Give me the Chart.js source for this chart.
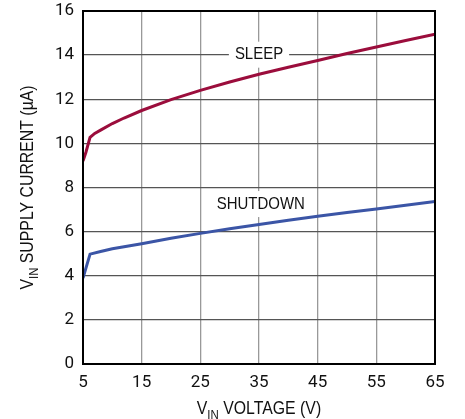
<!DOCTYPE html>
<html><head><meta charset="utf-8">
<script src="https://cdn.jsdelivr.net/npm/chart.js@4/dist/chart.umd.min.js"></script>
<style>html,body{margin:0;padding:0;background:#fff;}#wrap{width:465px;height:419px;}</style>
</head><body><div id="wrap"><canvas id="c" width="465" height="419"></canvas></div>
<script>
const sleepV = [5, 5.5, 6.2, 7, 8, 10, 12, 15, 20, 25, 30, 35, 40, 45, 50, 55, 60, 65];
const sleepI = [9.2, 9.6, 10.27, 10.45, 10.6, 10.9, 11.15, 11.49, 11.98, 12.4, 12.78, 13.13, 13.45, 13.76, 14.07, 14.37, 14.66, 14.95];
const shutV = [5, 6.2, 8, 10, 15, 20, 25, 30, 35, 40, 45, 50, 55, 60, 65];
const shutI = [3.9, 4.98, 5.1, 5.22, 5.45, 5.7, 5.92, 6.13, 6.32, 6.52, 6.7, 6.87, 7.03, 7.2, 7.37];
const xTicks = [5, 15, 25, 35, 45, 55, 65];
const yTicks = [0, 2, 4, 6, 8, 10, 12, 14, 16];
const seriesNames = ['SLEEP', 'SHUTDOWN'];

const FONT = '"Liberation Sans", Arial, sans-serif';
const TICKFONT = 'Roboto, "Liberation Sans", sans-serif';
const SX = 0.88;

const pts = (xs, ys) => xs.map((x, i) => ({x: x, y: ys[i]}));

function drawParts(ctx, parts, cx, cy) {
  let total = 0;
  parts.forEach(p => { ctx.font = p[1]; total += ctx.measureText(p[0]).width; });
  ctx.save();
  ctx.translate(cx, cy);
  ctx.scale(SX, 1);
  let xx = -total / 2;
  ctx.textAlign = 'left';
  parts.forEach(p => { ctx.font = p[1]; ctx.fillText(p[0], xx, p[2]); xx += ctx.measureText(p[0]).width; });
  ctx.restore();
}

const labelPlugin = {
  id: 'labels',
  beforeDatasetsDraw(chart) {
    const {ctx, scales: {x, y}} = chart;
    ctx.save();
    ctx.font = '17px ' + FONT;
    ctx.textBaseline = 'middle';
    ctx.textAlign = 'center';
    const items = [
      {t: seriesNames[0], vx: 35.0, vy: 14.02},
      {t: seriesNames[1], vx: 35.3, vy: 7.25}
    ];
    items.forEach(it => {
      const px = x.getPixelForValue(it.vx), py = y.getPixelForValue(it.vy);
      const w = ctx.measureText(it.t).width * SX;
      ctx.fillStyle = '#fff';
      ctx.fillRect(px - w / 2 - 6, py - 13, w + 12, 26);
      ctx.fillStyle = '#111';
      ctx.save();
      ctx.translate(px, py);
      ctx.scale(SX, 1);
      ctx.fillText(it.t, 0, 0);
      ctx.restore();
    });
    ctx.restore();
  },
  afterDraw(chart) {
    const {ctx, chartArea: a} = chart;
    ctx.save();
    ctx.strokeStyle = '#000';
    ctx.lineWidth = 2;
    ctx.strokeRect(a.left, a.top, a.right - a.left, a.bottom - a.top);
    ctx.fillStyle = '#111';
    ctx.textBaseline = 'alphabetic';
    const big = '18px ' + FONT, small = '13px ' + FONT;
    drawParts(ctx, [['V', big, 0], ['IN', small, 5], [' VOLTAGE (V)', big, 0]], (a.left + a.right) / 2, 414);
    ctx.save();
    ctx.translate(33, (a.top + a.bottom) / 2);
    ctx.rotate(-Math.PI / 2);
    drawParts(ctx, [['V', big, 0], ['IN', small, 5], [' SUPPLY CURRENT (µA)', big, 0]], 0, 0);
    ctx.restore();
    ctx.restore();
  }
};

new Chart(document.getElementById('c'), {
  type: 'line',
  data: {
    datasets: [
      {label: seriesNames[0], data: pts(sleepV, sleepI), borderColor: '#9b0d3c', borderWidth: 3, pointRadius: 0, tension: 0, fill: false},
      {label: seriesNames[1], data: pts(shutV, shutI), borderColor: '#3b55a6', borderWidth: 3, pointRadius: 0, tension: 0, fill: false}
    ]
  },
  options: {
    responsive: false,
    animation: false,
    events: [],
    layout: {padding: {top: 11, right: 30, left: 0, bottom: 0}},
    plugins: {legend: {display: false}, tooltip: {enabled: false}},
    scales: {
      x: {
        type: 'linear', min: 5, max: 65,
        afterBuildTicks: s => { s.ticks = xTicks.map(v => ({value: v})); },
        afterFit: s => { s.height = 55; s.paddingLeft = 0; s.paddingRight = 0; },
        grid: {color: '#999', lineWidth: 1.3, drawTicks: false},
        border: {color: '#000', width: 2},
        ticks: {color: '#111', font: {family: TICKFONT, size: 17}, padding: 9, maxRotation: 0}
      },
      y: {
        type: 'linear', min: 0, max: 16,
        afterBuildTicks: s => { s.ticks = yTicks.map(v => ({value: v})); },
        afterFit: s => { s.width = 83; s.paddingTop = 0; s.paddingBottom = 0; },
        grid: {color: '#555', lineWidth: 1.3, drawTicks: false},
        border: {color: '#000', width: 2},
        ticks: {color: '#111', font: {family: TICKFONT, size: 17}, padding: 9}
      }
    }
  },
  plugins: [labelPlugin]
});
</script></body></html>
